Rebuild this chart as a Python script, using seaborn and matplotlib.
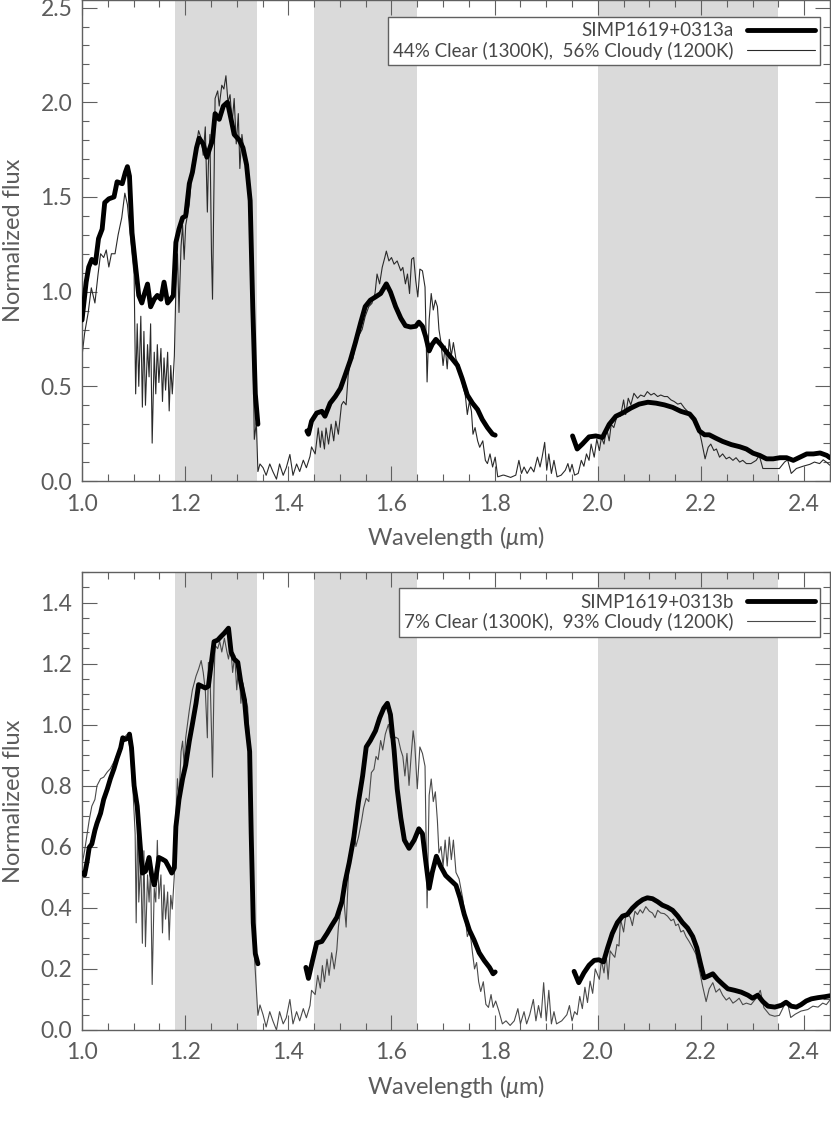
import matplotlib
matplotlib.use("Agg")
import matplotlib.pyplot as plt
from matplotlib.lines import Line2D
from matplotlib.ticker import MultipleLocator
import seaborn as sns

# shaded spectral windows (micron)
BANDS = [(1.18, 1.34), (1.45, 1.65), (2.00, 2.35)]

# ---------------- top panel: SIMP1619+0313a ----------------
A_NAME = "SIMP1619+0313a"
A_MODEL_NAME = "44% Clear (1300K),  56% Cloudy (1200K)"

A_OBS1_W = [1.000, 1.008, 1.013, 1.019, 1.026, 1.032, 1.039, 1.044, 1.052, 1.062,
            1.068, 1.078, 1.084, 1.088, 1.092, 1.097, 1.104, 1.110, 1.116, 1.120,
            1.127, 1.133, 1.140, 1.146, 1.153, 1.159, 1.166, 1.172, 1.177, 1.182,
            1.188, 1.195, 1.201, 1.208, 1.214, 1.222, 1.227, 1.235, 1.242, 1.248,
            1.253, 1.258, 1.266, 1.274, 1.282, 1.289, 1.295, 1.305, 1.312, 1.319,
            1.326, 1.331, 1.336, 1.341]
A_OBS1_F = [0.85, 1.05, 1.13, 1.17, 1.15, 1.28, 1.33, 1.47, 1.49, 1.50,
            1.58, 1.57, 1.63, 1.66, 1.61, 1.31, 1.13, 0.98, 0.94, 0.98,
            1.04, 0.92, 0.96, 0.98, 0.96, 1.05, 0.94, 0.96, 0.98, 1.26,
            1.33, 1.39, 1.40, 1.57, 1.63, 1.76, 1.81, 1.78, 1.71, 1.76,
            1.80, 1.94, 1.91, 1.98, 2.00, 1.91, 1.83, 1.80, 1.76, 1.67,
            1.48, 0.92, 0.46, 0.30]
A_OBS2_W = [1.436, 1.439, 1.445, 1.455, 1.465, 1.471, 1.481, 1.491, 1.501, 1.510,
            1.520, 1.530, 1.540, 1.549, 1.559, 1.569, 1.579, 1.590, 1.598, 1.608,
            1.618, 1.627, 1.637, 1.647, 1.653, 1.660, 1.666, 1.673, 1.679, 1.686,
            1.695, 1.705, 1.718, 1.728, 1.737, 1.747, 1.757, 1.767, 1.776, 1.786,
            1.796, 1.801]
A_OBS2_F = [0.264, 0.247, 0.316, 0.359, 0.368, 0.342, 0.411, 0.446, 0.489, 0.558,
            0.636, 0.731, 0.834, 0.921, 0.955, 0.972, 0.990, 1.041, 0.998, 0.921,
            0.860, 0.820, 0.813, 0.817, 0.839, 0.817, 0.765, 0.687, 0.722, 0.748,
            0.722, 0.687, 0.644, 0.610, 0.541, 0.454, 0.411, 0.377, 0.325, 0.282,
            0.247, 0.242]
A_OBS3_W = [1.951, 1.960, 1.970, 1.983, 1.996, 2.009, 2.022, 2.035, 2.048, 2.064,
            2.080, 2.097, 2.113, 2.129, 2.145, 2.161, 2.178, 2.187, 2.197, 2.207,
            2.216, 2.229, 2.242, 2.259, 2.275, 2.288, 2.301, 2.314, 2.327, 2.340,
            2.353, 2.366, 2.379, 2.392, 2.405, 2.418, 2.431, 2.444, 2.450]
A_OBS3_F = [0.238, 0.169, 0.195, 0.233, 0.238, 0.230, 0.299, 0.342, 0.359, 0.385,
            0.406, 0.416, 0.411, 0.402, 0.389, 0.368, 0.354, 0.325, 0.264, 0.244,
            0.244, 0.226, 0.209, 0.192, 0.181, 0.169, 0.147, 0.135, 0.117, 0.117,
            0.123, 0.123, 0.109, 0.126, 0.143, 0.143, 0.148, 0.135, 0.123]

A_MOD_W = [
    1.000, 1.005, 1.012, 1.018, 1.025, 1.031, 1.036, 1.042, 1.047, 1.052,
    1.057, 1.064, 1.070, 1.077, 1.083, 1.088, 1.093, 1.097, 1.101, 1.104,
    1.107, 1.110, 1.114, 1.117, 1.120, 1.123, 1.127, 1.130, 1.133, 1.136,
    1.140, 1.143, 1.146, 1.149, 1.153, 1.156, 1.159, 1.162, 1.166, 1.169,
    1.172, 1.175, 1.179, 1.182, 1.185, 1.188, 1.192, 1.195, 1.198, 1.201,
    1.208, 1.214, 1.221, 1.226, 1.231, 1.235, 1.239, 1.243, 1.245, 1.248,
    1.251, 1.253, 1.256, 1.258, 1.263, 1.266, 1.271, 1.275, 1.279, 1.283,
    1.287, 1.291, 1.295, 1.299, 1.303, 1.306, 1.310, 1.315, 1.319, 1.323,
    1.328, 1.331, 1.334, 1.338, 1.341, 1.345,
    1.351, 1.357, 1.364, 1.370, 1.377, 1.383, 1.390, 1.396, 1.403, 1.409,
    1.416, 1.422, 1.429, 1.435, 1.442, 1.445,
    1.452, 1.458, 1.462, 1.465, 1.470, 1.473, 1.478, 1.483, 1.488, 1.492,
    1.497, 1.503, 1.507, 1.512, 1.516, 1.520, 1.525, 1.530, 1.536, 1.543,
    1.549, 1.556, 1.562, 1.568, 1.572, 1.577, 1.582, 1.587, 1.590, 1.595,
    1.600, 1.605, 1.611, 1.618, 1.622, 1.627, 1.631, 1.635, 1.639, 1.643,
    1.647, 1.651, 1.655, 1.660, 1.665, 1.669, 1.673, 1.677, 1.681, 1.685,
    1.689, 1.692, 1.696, 1.700, 1.704, 1.708, 1.712, 1.716, 1.720, 1.725,
    1.731, 1.738, 1.743, 1.747, 1.751, 1.755, 1.758, 1.762, 1.767, 1.771,
    1.777, 1.782, 1.786, 1.791, 1.796, 1.801, 1.806, 1.816,
    1.818, 1.831, 1.841, 1.847, 1.852, 1.857, 1.863, 1.870, 1.876, 1.883,
    1.888, 1.892, 1.897, 1.901, 1.905, 1.910, 1.915, 1.921, 1.929, 1.937,
    1.942, 1.946, 1.950, 1.955, 1.962, 1.968, 1.973, 1.978, 1.983, 1.987,
    1.993, 1.998, 2.003, 2.007, 2.012, 2.017, 2.022, 2.026, 2.031, 2.038,
    2.044, 2.050, 2.054, 2.059, 2.064, 2.070, 2.077, 2.083, 2.090, 2.096,
    2.103, 2.109, 2.116, 2.122, 2.129, 2.135, 2.142, 2.148, 2.155, 2.161,
    2.168, 2.174, 2.181, 2.188, 2.195, 2.201, 2.208, 2.214, 2.219, 2.225,
    2.230, 2.236, 2.242, 2.249, 2.255, 2.262, 2.268, 2.275, 2.281, 2.288,
    2.297, 2.307, 2.313, 2.320, 2.330, 2.343, 2.352, 2.362, 2.368, 2.375,
    2.385, 2.398, 2.411, 2.420, 2.430, 2.437, 2.443, 2.450]
A_MOD_F = [
    0.66, 0.78, 0.89, 1.02, 0.94, 1.09, 1.20, 1.18, 1.22, 1.13,
    1.20, 1.20, 1.30, 1.39, 1.52, 1.46, 1.31, 1.20, 1.09, 0.46,
    0.83, 0.50, 0.87, 0.39, 0.79, 0.40, 0.72, 0.55, 0.83, 0.20,
    0.68, 0.46, 0.72, 0.52, 0.70, 0.42, 0.65, 0.48, 0.68, 0.37,
    0.61, 0.46, 0.66, 1.02, 1.20, 0.89, 1.24, 1.35, 1.17, 1.35,
    1.46, 1.67, 1.76, 1.85, 1.81, 1.72, 1.87, 1.42, 1.67, 1.83,
    1.20, 0.96, 1.57, 2.02, 2.06, 1.98, 2.09, 2.07, 2.14, 2.00,
    2.04, 1.89, 2.02, 1.78, 1.94, 1.65, 1.83, 1.72, 1.65, 1.57,
    1.20, 0.83, 0.22, 0.31, 0.05, 0.09,
    0.07, 0.03, 0.09, 0.05, 0.01, 0.09, 0.03, 0.07, 0.14, 0.03,
    0.09, 0.05, 0.11, 0.07, 0.13, 0.18,
    0.143, 0.28, 0.178, 0.264, 0.169, 0.28, 0.195, 0.30, 0.212, 0.316,
    0.247, 0.402, 0.42, 0.402, 0.558, 0.627, 0.644, 0.713, 0.765, 0.80,
    0.869, 0.921, 0.938, 0.99, 1.093, 1.041, 1.128, 1.18, 1.214, 1.162,
    1.18, 1.145, 1.162, 1.11, 1.128, 1.041, 1.093, 0.99, 1.171, 1.18,
    1.059, 0.972, 1.119, 1.11, 1.024, 0.523, 0.851, 0.99, 0.903, 0.955,
    0.921, 0.80, 0.731, 0.61, 0.713, 0.592, 0.748, 0.661, 0.731, 0.644,
    0.61, 0.506, 0.454, 0.351, 0.42, 0.368, 0.247, 0.282, 0.212, 0.178,
    0.212, 0.109, 0.092, 0.143, 0.074, 0.126, 0.022, 0.031,
    0.031, 0.019, 0.031, 0.109, 0.04, 0.074, 0.04, 0.074, 0.048, 0.126,
    0.074, 0.126, 0.204, 0.057, 0.143, 0.04, 0.109, 0.022, 0.031, 0.057,
    0.092, 0.048, 0.088, 0.031, 0.04, 0.109, 0.078, 0.143, 0.109, 0.195,
    0.126, 0.221, 0.161, 0.23, 0.195, 0.282, 0.212, 0.299, 0.282, 0.351,
    0.342, 0.428, 0.351, 0.437, 0.402, 0.463, 0.437, 0.454, 0.446, 0.472,
    0.454, 0.463, 0.446, 0.454, 0.446, 0.446, 0.428, 0.42, 0.406, 0.411,
    0.385, 0.368, 0.342, 0.316, 0.282, 0.212, 0.117, 0.178, 0.195, 0.161,
    0.169, 0.126, 0.143, 0.117, 0.126, 0.109, 0.123, 0.10, 0.109, 0.092,
    0.092, 0.109, 0.135, 0.066, 0.066, 0.066, 0.066, 0.10, 0.112, 0.04,
    0.066, 0.078, 0.088, 0.10, 0.092, 0.112, 0.10, 0.083]

# ---------------- bottom panel: SIMP1619+0313b ----------------
B_NAME = "SIMP1619+0313b"
B_MODEL_NAME = "7% Clear (1300K),  93% Cloudy (1200K)"

B_OBS1_W = [1.000, 1.005, 1.010, 1.014, 1.019, 1.025, 1.029, 1.036, 1.042, 1.049,
            1.055, 1.062, 1.068, 1.075, 1.079, 1.084, 1.090, 1.092, 1.096, 1.101,
            1.107, 1.112, 1.117, 1.123, 1.130, 1.135, 1.140, 1.144, 1.149, 1.156,
            1.162, 1.169, 1.174, 1.179, 1.182, 1.188, 1.195, 1.201, 1.208, 1.214,
            1.221, 1.226, 1.232, 1.239, 1.245, 1.250, 1.256, 1.263, 1.269, 1.276,
            1.284, 1.289, 1.295, 1.302, 1.308, 1.315, 1.319, 1.325, 1.328, 1.332,
            1.336, 1.341]
B_OBS1_F = [0.514, 0.508, 0.553, 0.598, 0.609, 0.654, 0.677, 0.710, 0.755, 0.789,
            0.823, 0.856, 0.890, 0.924, 0.957, 0.952, 0.957, 0.969, 0.924, 0.800,
            0.733, 0.621, 0.514, 0.520, 0.565, 0.508, 0.475, 0.508, 0.565, 0.559,
            0.553, 0.531, 0.514, 0.531, 0.666, 0.755, 0.823, 0.868, 0.946, 1.002,
            1.070, 1.131, 1.126, 1.120, 1.126, 1.193, 1.272, 1.277, 1.288, 1.300,
            1.316, 1.238, 1.215, 1.204, 1.137, 1.081, 1.002, 0.912, 0.643, 0.351,
            0.250, 0.217]
B_OBS2_W = [1.434, 1.439, 1.446, 1.455, 1.465, 1.475, 1.484, 1.494, 1.504, 1.510,
            1.518, 1.527, 1.536, 1.544, 1.551, 1.559, 1.569, 1.577, 1.585, 1.592,
            1.598, 1.605, 1.611, 1.618, 1.625, 1.634, 1.644, 1.653, 1.660, 1.666,
            1.673, 1.679, 1.687, 1.695, 1.705, 1.715, 1.725, 1.733, 1.741, 1.751,
            1.760, 1.770, 1.780, 1.790, 1.797, 1.801]
B_OBS2_F = [0.205, 0.169, 0.221, 0.285, 0.290, 0.316, 0.342, 0.369, 0.421, 0.485,
            0.548, 0.632, 0.748, 0.832, 0.927, 0.948, 0.980, 1.022, 1.054, 1.070,
            1.033, 0.917, 0.790, 0.695, 0.622, 0.595, 0.622, 0.659, 0.643, 0.558,
            0.464, 0.516, 0.569, 0.537, 0.506, 0.490, 0.474, 0.432, 0.379, 0.327,
            0.295, 0.253, 0.227, 0.205, 0.184, 0.190]
B_OBS3_W = [1.954, 1.963, 1.973, 1.983, 1.993, 2.002, 2.011, 2.019, 2.028, 2.038,
            2.048, 2.057, 2.067, 2.077, 2.087, 2.096, 2.106, 2.116, 2.125, 2.135,
            2.145, 2.155, 2.164, 2.174, 2.184, 2.192, 2.199, 2.206, 2.213, 2.223,
            2.232, 2.242, 2.252, 2.265, 2.278, 2.291, 2.300, 2.310, 2.320, 2.330,
            2.343, 2.356, 2.365, 2.375, 2.385, 2.394, 2.404, 2.414, 2.427, 2.440,
            2.450]
B_OBS3_F = [0.192, 0.155, 0.187, 0.212, 0.228, 0.230, 0.223, 0.269, 0.316, 0.352,
            0.373, 0.378, 0.399, 0.415, 0.427, 0.433, 0.430, 0.420, 0.409, 0.402,
            0.392, 0.373, 0.352, 0.334, 0.306, 0.269, 0.218, 0.171, 0.176, 0.184,
            0.166, 0.150, 0.135, 0.130, 0.124, 0.114, 0.104, 0.114, 0.093, 0.078,
            0.075, 0.081, 0.091, 0.078, 0.075, 0.083, 0.095, 0.102, 0.106, 0.109,
            0.112]

B_MOD_W = [
    1.000, 1.005, 1.010, 1.014, 1.019, 1.025, 1.029, 1.036, 1.042, 1.049,
    1.055, 1.062, 1.068, 1.075, 1.081, 1.088, 1.094, 1.099, 1.103, 1.105,
    1.108, 1.110, 1.114, 1.117, 1.120, 1.123, 1.127, 1.130, 1.133, 1.136,
    1.140, 1.143, 1.146, 1.149, 1.153, 1.156, 1.159, 1.162, 1.166, 1.169,
    1.172, 1.175, 1.179, 1.182, 1.185, 1.188, 1.192, 1.195, 1.198, 1.201,
    1.208, 1.214, 1.221, 1.226, 1.231, 1.235, 1.239, 1.243, 1.245, 1.248,
    1.251, 1.253, 1.256, 1.258, 1.263, 1.267, 1.271, 1.276, 1.281, 1.284,
    1.288, 1.292, 1.296, 1.300, 1.304, 1.308, 1.312, 1.316, 1.321, 1.325,
    1.328, 1.332, 1.336, 1.341, 1.345,
    1.351, 1.357, 1.364, 1.370, 1.377, 1.383, 1.390, 1.396, 1.403, 1.409,
    1.416, 1.422, 1.429, 1.435, 1.442, 1.445,
    1.452, 1.457, 1.462, 1.466, 1.470, 1.475, 1.479, 1.484, 1.489, 1.494,
    1.497, 1.503, 1.507, 1.512, 1.517, 1.522, 1.527, 1.531, 1.536, 1.542,
    1.546, 1.551, 1.556, 1.561, 1.566, 1.570, 1.574, 1.579, 1.583, 1.588,
    1.594, 1.598, 1.603, 1.608, 1.613, 1.618, 1.622, 1.626, 1.630, 1.634,
    1.638, 1.642, 1.645, 1.650, 1.655, 1.660, 1.665, 1.669, 1.673, 1.677,
    1.681, 1.685, 1.689, 1.692, 1.696, 1.700, 1.704, 1.708, 1.712, 1.716,
    1.720, 1.725, 1.731, 1.738, 1.743, 1.747, 1.752, 1.757, 1.761, 1.765,
    1.769, 1.773, 1.778, 1.783, 1.788, 1.793, 1.797, 1.802, 1.808,
    1.815, 1.822, 1.830, 1.838, 1.845, 1.850, 1.857, 1.862, 1.868, 1.875,
    1.880, 1.885, 1.890, 1.895, 1.900, 1.905, 1.910, 1.915, 1.920, 1.930,
    1.940, 1.945, 1.950, 1.955, 1.960, 1.965, 1.970, 1.975, 1.980, 1.985,
    1.990, 1.995,
    2.003, 2.007, 2.012, 2.016, 2.020, 2.024, 2.028, 2.033, 2.037, 2.041,
    2.044, 2.050, 2.054, 2.057, 2.063, 2.067, 2.072, 2.077, 2.082, 2.087,
    2.093, 2.100, 2.106, 2.111, 2.116, 2.122, 2.129, 2.135, 2.142, 2.147,
    2.151, 2.156, 2.161, 2.166, 2.171, 2.177, 2.184, 2.190, 2.197, 2.203,
    2.210, 2.216, 2.223, 2.229, 2.236, 2.242, 2.249, 2.255, 2.262, 2.268,
    2.274, 2.281, 2.288, 2.297, 2.307, 2.315, 2.322, 2.333, 2.343, 2.352,
    2.362, 2.368, 2.374, 2.383, 2.394, 2.407, 2.417, 2.427, 2.436, 2.443,
    2.450]
B_MOD_F = [
    0.542, 0.587, 0.643, 0.688, 0.733, 0.755, 0.800, 0.823, 0.828, 0.845,
    0.856, 0.879, 0.901, 0.929, 0.957, 0.969, 0.912, 0.778, 0.643, 0.351,
    0.722, 0.419, 0.553, 0.284, 0.587, 0.273, 0.508, 0.419, 0.531, 0.149,
    0.464, 0.419, 0.621, 0.430, 0.508, 0.318, 0.475, 0.363, 0.452, 0.295,
    0.441, 0.396, 0.508, 0.699, 0.823, 0.755, 0.912, 0.946, 0.868, 0.957,
    1.047, 1.114, 1.159, 1.182, 1.210, 1.171, 1.114, 0.957, 1.204, 1.171,
    0.980, 0.828, 1.148, 1.260, 1.249, 1.272, 1.238, 1.283, 1.238, 1.215,
    1.260, 1.171, 1.227, 1.114, 1.204, 1.070, 1.137, 1.092, 1.058, 0.935,
    0.699, 0.306, 0.194, 0.048, 0.082,
    0.05, 0.01, 0.06, 0.03, 0.00, 0.06, 0.02, 0.04, 0.10, 0.02,
    0.06, 0.03, 0.07, 0.04, 0.08, 0.13,
    0.116, 0.179, 0.137, 0.211, 0.158, 0.232, 0.179, 0.253, 0.200, 0.263,
    0.337, 0.411, 0.443, 0.337, 0.527, 0.580, 0.664, 0.601, 0.632, 0.685,
    0.727, 0.759, 0.748, 0.843, 0.854, 0.896, 0.885, 0.948, 0.917, 0.969,
    1.001, 0.959, 0.948, 0.959, 0.954, 0.917, 0.896, 0.832, 0.906, 0.801,
    0.896, 0.980, 0.938, 0.790, 0.927, 0.906, 0.864, 0.400, 0.769, 0.822,
    0.748, 0.780, 0.685, 0.580, 0.601, 0.537, 0.622, 0.537, 0.632, 0.558,
    0.622, 0.516, 0.495, 0.432, 0.369, 0.306, 0.327, 0.253, 0.200, 0.221,
    0.158, 0.126, 0.158, 0.084, 0.074, 0.116, 0.074, 0.095, 0.063,
    0.02, 0.03, 0.015, 0.03, 0.07, 0.02, 0.06, 0.02, 0.05, 0.10,
    0.03, 0.08, 0.04, 0.155, 0.03, 0.13, 0.02, 0.06, 0.02, 0.03,
    0.05, 0.08, 0.03, 0.06, 0.05, 0.11, 0.07, 0.14, 0.09, 0.16,
    0.12, 0.20,
    0.166, 0.228, 0.187, 0.249, 0.166, 0.259, 0.249, 0.238, 0.280, 0.275,
    0.363, 0.321, 0.373, 0.383, 0.368, 0.342, 0.389, 0.378, 0.394, 0.383,
    0.404, 0.389, 0.383, 0.368, 0.392, 0.383, 0.381, 0.373, 0.358, 0.363,
    0.342, 0.347, 0.321, 0.326, 0.306, 0.290, 0.269, 0.249, 0.197, 0.145,
    0.093, 0.135, 0.155, 0.124, 0.135, 0.114, 0.098, 0.106, 0.088, 0.095,
    0.104, 0.083, 0.088, 0.083, 0.104, 0.130, 0.073, 0.050, 0.045, 0.048,
    0.083, 0.088, 0.041, 0.052, 0.062, 0.067, 0.078, 0.075, 0.088, 0.083,
    0.098]

sns.set_style("ticks")
plt.rcParams["font.family"] = ["Lato", "DejaVu Sans"]
plt.rcParams["mathtext.fontset"] = "custom"
plt.rcParams["mathtext.it"] = "Lato:italic"
plt.rcParams["mathtext.rm"] = "Lato"

TEXT_GREY = "#5c5c5c"
AXIS_GREY = "#606060"


def draw_panel(ax, obs, mod_w, mod_f, name, model_name, ymax, ymajor, yminor, model_color):
    for lo, hi in BANDS:
        ax.axvspan(lo, hi, color="#dadada", lw=0, zorder=0)
    sns.lineplot(x=mod_w, y=mod_f, ax=ax, color=model_color, lw=0.8,
                 sort=False, estimator=None, zorder=2)
    for w, f in obs:
        sns.lineplot(x=w, y=f, ax=ax, color="black", lw=3.5,
                     sort=False, estimator=None, zorder=3)
    ax.set_xlim(1.0, 2.45)
    ax.set_ylim(0, ymax)
    ax.xaxis.set_major_locator(MultipleLocator(0.2))
    ax.xaxis.set_minor_locator(MultipleLocator(0.05))
    ax.yaxis.set_major_locator(MultipleLocator(ymajor))
    ax.yaxis.set_minor_locator(MultipleLocator(yminor))
    ax.yaxis.set_major_formatter(plt.FormatStrFormatter("%.1f"))
    ax.xaxis.set_major_formatter(plt.FormatStrFormatter("%.1f"))
    ax.tick_params(which="both", direction="in", top=True, right=True,
                   color=AXIS_GREY, labelcolor=TEXT_GREY, labelsize=16.5, width=0.8)
    ax.tick_params(which="major", length=10.5, pad=7)
    ax.tick_params(which="minor", length=5)
    ax.tick_params(axis="x", which="major", pad=9)
    for sp in ax.spines.values():
        sp.set_color(AXIS_GREY)
        sp.set_linewidth(1.0)
    ax.set_xlabel(r"Wavelength ($\mu$m)", fontsize=17, color=TEXT_GREY, labelpad=7)
    ax.set_ylabel("Normalized flux", fontsize=17, color=TEXT_GREY, labelpad=12)
    handles = [Line2D([], [], color="black", lw=3.5),
               Line2D([], [], color=model_color, lw=0.8)]
    leg = ax.legend(handles, [name, model_name], loc="upper right",
                    bbox_to_anchor=(0.987, 0.965), borderaxespad=0,
                    markerfirst=False, frameon=True, fancybox=False,
                    framealpha=1, edgecolor=AXIS_GREY, fontsize=13.5,
                    handlelength=3.6, handletextpad=0.7, labelspacing=0.12,
                    borderpad=0.3)
    leg.get_frame().set_linewidth(1.0)
    for t in leg.get_texts():
        t.set_color("#474747")


fig = plt.figure(figsize=(8.31, 11.22), dpi=100)
ax_a = fig.add_axes([0.0987, 0.5713, 0.9, 0.4287])
ax_b = fig.add_axes([0.0987, 0.0820, 0.9, 0.4082])

draw_panel(ax_a, [(A_OBS1_W, A_OBS1_F), (A_OBS2_W, A_OBS2_F), (A_OBS3_W, A_OBS3_F)],
           A_MOD_W, A_MOD_F, A_NAME, A_MODEL_NAME, 2.54, 0.5, 0.1, "#2a2a2a")
draw_panel(ax_b, [(B_OBS1_W, B_OBS1_F), (B_OBS2_W, B_OBS2_F), (B_OBS3_W, B_OBS3_F)],
           B_MOD_W, B_MOD_F, B_NAME, B_MODEL_NAME, 1.5, 0.2, 0.05, "#4a4a4a")

fig.savefig("out.png", dpi=100)
